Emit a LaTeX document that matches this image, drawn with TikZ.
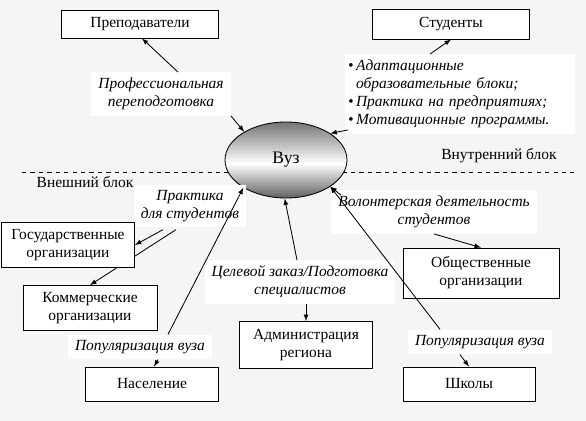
\documentclass[tikz,border=0pt]{standalone}
\usepackage{fontspec}
\setmainfont{Liberation Serif}
\usetikzlibrary{shapes.geometric,calc}

\begin{document}
\begin{tikzpicture}[x=0.025cm,y=-0.025cm]
\tikzset{boite/.style={draw, fill=white, line width=0.6pt, align=center, inner sep=0pt, font=\rmfamily\fontsize{11}{12.8}\selectfont}}
\tikzset{etiq/.style={fill=white, align=center, inner xsep=5pt, inner ysep=4pt, font=\rmfamily\itshape\fontsize{11}{12.8}\selectfont}}
\tikzset{fl/.style={->, >=latex, line width=0.6pt}}
\fill[black!4] (0,0) rectangle (586,421);
\draw[dashed, line width=0.6pt] (22,172) -- (574,172);
% degrade du Vuz
\begin{scope}
\clip (286,160) ellipse [x radius=61, y radius=38];
\foreach \i in {0,...,38} {
  \pgfmathsetmacro{\g}{\i<21 ? 55*(1-\i/21) : 62*(\i-21)/17}
  \fill[black!\g] (224,121+2*\i) rectangle (348,123.5+2*\i);
}
\end{scope}
\node[boite, minimum width=3.925cm, minimum height=0.7cm] (Prep) at (140,24) {Преподаватели};
\node[boite, minimum width=3.925cm, minimum height=0.75cm] (Stud) at (451,24) {Студенты};
\node[etiq] (L1) at (161,94) {Профессиональная\\переподготовка};
\node[etiq, align=left, text width=5.6cm, inner xsep=2pt, anchor=west] (L2) at (345,94) {\textbullet\,Адаптационные\\\hphantom{\textbullet\,}образовательные блоки;\\\textbullet\,Практика на предприятиях;\\\textbullet\,Мотивационные программы.};
\node[ellipse, draw, line width=0.6pt, minimum width=3.05cm, minimum height=1.9cm, font=\rmfamily\fontsize{12.5}{14}\selectfont] (Vuz) at (286,160) {Вуз};
\node[font=\rmfamily\fontsize{11}{12.8}\selectfont] (Ext) at (85,182) {Внешний блок};
\node[font=\rmfamily\fontsize{11}{12.8}\selectfont] (Int) at (499,156) {Внутренний блок};
\node[etiq] (L3) at (190,206) {Практика\\для студентов};
\node[boite, minimum width=3.35cm, minimum height=1.125cm] (Comm) at (90,308) {Коммерческие\\организации};
\draw[fl] ($(L3.south)+(-14,2)$) -- (Comm.north);
\node[boite, minimum width=3.325cm, minimum height=1.125cm] (Gos) at (68,245) {Государственные\\организации};
\draw[fl] ($(L3.south)+(-27,2)$) -- (Gos.east);
\node[etiq] (L4) at (140,347) {Популяризация вуза};
\node[boite, minimum width=3.325cm, minimum height=0.85cm] (Nas) at (152,384) {Население};
\node[etiq] (L5) at (300,282) {Целевой заказ/Подготовка\\специалистов};
\node[boite, minimum width=3.325cm, minimum height=1.175cm] (Adm) at (306,345) {Администрация\\региона};
\node[etiq] (L6) at (434,212) {Волонтерская деятельность\\студентов};
\node[boite, minimum width=3.9cm, minimum height=1.25cm] (Obs) at (481,273) {Общественные\\организации};
\node[etiq] (L7) at (480,342) {Популяризация вуза};
\node[boite, minimum width=3.3cm, minimum height=0.85cm] (Sch) at (469,384) {Школы};
% fleches
\draw[fl] ($(L1.north)+(17,0)$) -- ($(Prep.south)+(2,0)$);
\draw[fl] (L1.south east) -- (Vuz.146);
\draw[fl] ($(L2.north west)+(85,0)$) -- (Stud.south);
\draw[fl] ($(L2.south west)+(3,-4)$) -- (Vuz.31);
\draw[fl] ($(L4.north)+(28,0)$) -- (Vuz.213);
\draw[fl] ($(L4.south)+(18,0)$) -- ($(Nas.north)+(2,0)$);
\draw[fl] ($(L5.north)+(-3,0)$) -- (Vuz.268);
\draw[fl] ($(L5.south)+(6,0)$) -- (Adm.north);
\draw[fl] ($(L6.north west)+(10,5)$) -- (Vuz.329);
\draw[fl] (L6.south) -- (Obs.north);
\draw[fl] ($(L7.north)+(-40,0)$) -- (Vuz.329);
\draw[fl] ($(L7.south)+(-20,0)$) -- (Sch.north);
\end{tikzpicture}
\end{document}
